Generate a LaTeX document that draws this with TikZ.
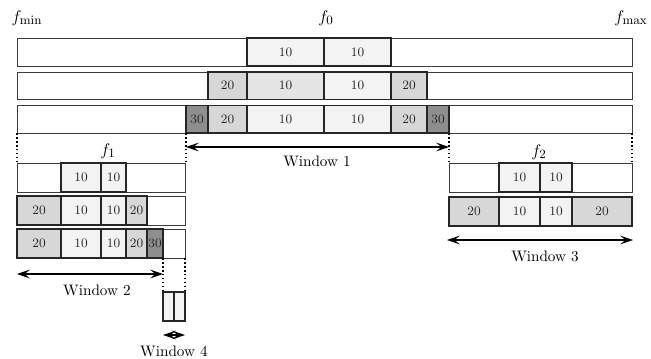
\documentclass[tikz,border=0pt]{standalone}
\usepackage{xcolor}
\usepackage{tikz}
\usetikzlibrary{arrows.meta}
\definecolor{cellten}{RGB}{242,243,242}
\definecolor{celltenb}{RGB}{229,229,229}
\definecolor{celltwenty}{RGB}{215,215,215}
\definecolor{cellthirty}{RGB}{142,142,142}
\definecolor{lineedge}{RGB}{60,60,60}

\begin{document}
\begin{tikzpicture}[x=0.025cm, y=-0.025cm, every node/.style={font=\fontsize{9.2}{11}\selectfont, text=black!85}]
      \tikzstyle{barline}=[draw=lineedge, line width=0.7pt, fill=white]
      \tikzstyle{cellbox}=[draw=black!85, line width=1pt]
      \tikzstyle{ten}=[cellbox, fill=cellten]
      \tikzstyle{tenb}=[cellbox, fill=celltenb]
      \tikzstyle{twenty}=[cellbox, fill=celltwenty]
      \tikzstyle{thirty}=[cellbox, fill=cellthirty]
      \tikzstyle{guide}=[dash pattern=on 1.2pt off 1.6pt, line width=0.8pt]
      \tikzstyle{winarrow}=[{Stealth[length=3.2mm, width=2.2mm, inset=1.3mm]}-{Stealth[length=3.2mm, width=2.2mm, inset=1.3mm]}, line width=0.8pt]
      \tikzstyle{biglabel}=[font=\fontsize{10.8}{13}\selectfont, text=black]
      \tikzstyle{freqlabel}=[font=\fontsize{13}{15}\selectfont, text=black]
      \useasboundingbox (0,0) rectangle (651,358);
      % full band
      \node[freqlabel] (fmin) at (27,18) {$f_{\min}$};
      \node[freqlabel] (fzero) at (326,18) {$f_0$};
      \node[freqlabel] (fmax) at (631,18) {$f_{\max}$};
      \draw[barline] (17,38) rectangle (632,66);
      \draw[ten] (247,38) rectangle (324,66) node[midway] (a1) {10};
      \draw[ten] (324,38) rectangle (391,66) node[midway] (a2) {10};
      \draw[barline] (17,72) rectangle (632,99.5);
      \draw[twenty] (208,72) rectangle (247,99.5) node[midway] (b1) {20};
      \draw[tenb] (247,72) rectangle (324,99.5) node[midway] (b2) {10};
      \draw[ten] (324,72) rectangle (391,99.5) node[midway] (b3) {10};
      \draw[twenty] (391,72) rectangle (427,99.5) node[midway] (b4) {20};
      \draw[barline] (17,105.5) rectangle (632,133);
      \draw[thirty] (186,105.5) rectangle (208,133) node[midway] (c1) {30};
      \draw[twenty] (208,105.5) rectangle (247,133) node[midway] (c2) {20};
      \draw[ten] (247,105.5) rectangle (324,133) node[midway] (c3) {10};
      \draw[ten] (324,105.5) rectangle (391,133) node[midway] (c4) {10};
      \draw[twenty] (391,105.5) rectangle (427,133) node[midway] (c5) {20};
      \draw[thirty] (427,105.5) rectangle (449,133) node[midway] (c6) {30};
      % split lines
      \coordinate (g1t) at (17,133);  \coordinate (g1b) at (17,163);
      \coordinate (g2t) at (186,133); \coordinate (g2b) at (186,163);
      \coordinate (g3t) at (449,133); \coordinate (g3b) at (449,163);
      \coordinate (g4t) at (632,133); \coordinate (g4b) at (632,163);
      \draw[guide] (g1t) -- (g1b);
      \draw[guide] (g2t) -- (g2b);
      \draw[guide] (g3t) -- (g3b);
      \draw[guide] (g4t) -- (g4b);
      \coordinate (w1l) at (186,147);
      \coordinate (w1r) at (449,147);
      \draw[winarrow] (w1l) -- (w1r);
      \node[biglabel] (win1) at (317,161) {Window 1};
      % left part
      \node[freqlabel] (fone) at (108,151) {$f_1$};
      \draw[barline] (17,163) rectangle (185,192);
      \draw[ten] (61,163) rectangle (101,192) node[midway] (d1) {10};
      \draw[ten] (101,163) rectangle (126,192) node[midway] (d2) {10};
      \draw[barline] (17,196) rectangle (185,225);
      \draw[twenty] (17,196) rectangle (61,225) node[midway] (e1) {20};
      \draw[ten] (61,196) rectangle (101,225) node[midway] (e2) {10};
      \draw[ten] (101,196) rectangle (126,225) node[midway] (e3) {10};
      \draw[twenty] (126,196) rectangle (147,225) node[midway] (e4) {20};
      \draw[barline] (17,229) rectangle (185,258);
      \draw[twenty] (17,229) rectangle (61,258) node[midway] (h1) {20};
      \draw[ten] (61,229) rectangle (101,258) node[midway] (h2) {10};
      \draw[ten] (101,229) rectangle (126,258) node[midway] (h3) {10};
      \draw[twenty] (126,229) rectangle (147,258) node[midway] (h4) {20};
      \draw[thirty] (147,229) rectangle (163,258) node[midway] (h5) {30};
      \coordinate (g5t) at (163,258); \coordinate (g5b) at (163,292);
      \coordinate (g6t) at (185,258); \coordinate (g6b) at (185,292);
      \draw[guide] (g5t) -- (g5b);
      \draw[guide] (g6t) -- (g6b);
      \coordinate (w2l) at (17,274);
      \coordinate (w2r) at (163,274);
      \draw[winarrow] (w2l) -- (w2r);
      \node[biglabel] (win2) at (97,290) {Window 2};
      \draw[ten] (163,292) rectangle (174,321);
      \draw[ten] (174,292) rectangle (185,321);
      \coordinate (w4l) at (163,335);
      \coordinate (w4r) at (185,335);
      \draw[winarrow] (w4l) -- (w4r);
      \node[biglabel] (win4) at (174,351) {Window 4};
      % right part
      \node[freqlabel] (ftwo) at (539,152) {$f_2$};
      \draw[barline] (449,163) rectangle (632,192);
      \draw[ten] (499,163) rectangle (540,192) node[midway] (k1) {10};
      \draw[ten] (540,163) rectangle (572,192) node[midway] (k2) {10};
      \draw[twenty] (449,197) rectangle (499,226) node[midway] (m1) {20};
      \draw[ten] (499,197) rectangle (540,226) node[midway] (m2) {10};
      \draw[ten] (540,197) rectangle (572,226) node[midway] (m3) {10};
      \draw[twenty] (572,197) rectangle (632,226) node[midway] (m4) {20};
      \coordinate (w3l) at (447,240);
      \coordinate (w3r) at (633,240);
      \draw[winarrow] (w3l) -- (w3r);
      \node[biglabel] (win3) at (545,256) {Window 3};
    \end{tikzpicture}
\end{document}
